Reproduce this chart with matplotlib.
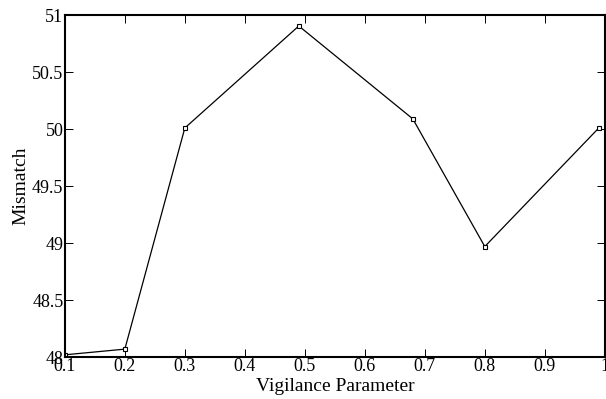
import matplotlib
matplotlib.use('Agg')
import matplotlib.pyplot as plt
import numpy as np

# dane
vigilance = [0.1, 0.2, 0.3, 0.49, 0.68, 0.8, 0.99]
mismatch = [48.02, 48.07, 50.01, 50.905, 50.09, 48.97, 50.01]

xticks = [0.1, 0.2, 0.3, 0.4, 0.5, 0.6, 0.7, 0.8, 0.9, 1.0]
xtick_labels = ['0.1', '0.2', '0.3', '0.4', '0.5', '0.6', '0.7', '0.8', '0.9', '1']
yticks = [48, 48.5, 49, 49.5, 50, 50.5, 51]
ytick_labels = ['48', '48.5', '49', '49.5', '50', '50.5', '51']

plt.rcParams['font.family'] = ['Liberation Serif', 'DejaVu Serif']

fig = plt.figure(figsize=(6.06, 3.99), dpi=100)
ax = fig.add_axes([0.107, 0.105, 0.891, 0.857])

ax.plot(vigilance, mismatch, '-', color='black', linewidth=0.9,
        marker='s', markersize=3.5, markerfacecolor='white',
        markeredgecolor='black', markeredgewidth=0.8)

ax.set_xlim(0.1, 1.0)
ax.set_ylim(48, 51)
ax.set_xticks(xticks)
ax.set_xticklabels(xtick_labels)
ax.set_yticks(yticks)
ax.set_yticklabels(ytick_labels)

ax.tick_params(direction='in', length=6, width=0.7, top=True, right=True,
               labelsize=13, pad=1)
for s in ax.spines.values():
    s.set_linewidth(1.5)

ax.set_xlabel('Vigilance Parameter', fontsize=14, labelpad=2)
ax.set_ylabel('Mismatch', fontsize=14, labelpad=2)

plt.savefig('out.png', dpi=100)
